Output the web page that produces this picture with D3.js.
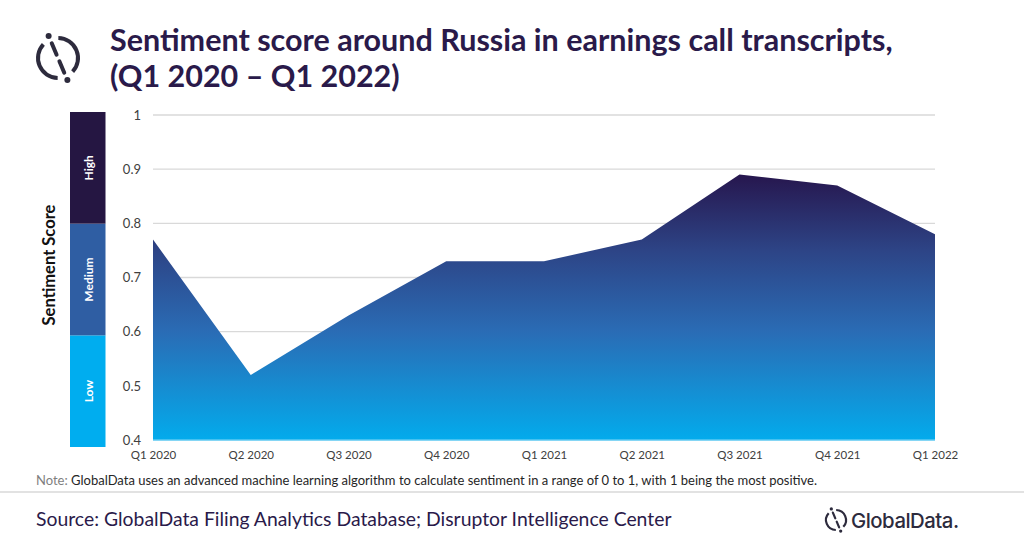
<!DOCTYPE html>
<html>
<head>
<meta charset="utf-8">
<script src="https://cdn.jsdelivr.net/npm/d3@7"></script>
<style>
  body { margin: 0; background: #fff; }
  svg { display: block; font-family: Lato, "Open Sans", sans-serif; }
</style>
</head>
<body>
<div id="chart"></div>
<script>
// data
const quarters = ["Q1 2020", "Q2 2020", "Q3 2020", "Q4 2020", "Q1 2021", "Q2 2021", "Q3 2021", "Q4 2021", "Q1 2022"]
const scores = [0.77, 0.52, 0.63, 0.73, 0.73, 0.77, 0.89, 0.87, 0.78]
const yTicks = [0.4, 0.5, 0.6, 0.7, 0.8, 0.9, 1]
const bandLabels = ["Low", "Medium", "High"]
const bandLows = [0.4, 0.6, 0.8]
const bandHighs = [0.6, 0.8, 1.0]
const bandColors = ["#00adef", "#2f5ea3", "#251642"]

const W = 1024, H = 549
const ink = "#2a1a4a"

const svg = d3.select("#chart").append("svg")
    .attr("width", W)
    .attr("height", H)

// fit a text element to a target width by scaling its font size
function fitWidth(sel, target) {
    const node = sel.node()
    const w = node.getComputedTextLength()
    const fs = parseFloat(sel.attr("font-size"))
    sel.attr("font-size", (fs * target / w).toFixed(2))
}

// logo: circle split by a slash, with two dots
function logo(g, r, sw) {
    const arc = d3.arc().innerRadius(r - sw / 2).outerRadius(r + sw / 2)
    const gap = 24
    const a0 = -23
    g.append("path").attr("fill", "#2d2b3d")
        .attr("d", arc({ startAngle: (a0 + gap) * Math.PI / 180, endAngle: (a0 + 180 - gap) * Math.PI / 180 }))
    g.append("path").attr("fill", "#2d2b3d")
        .attr("d", arc({ startAngle: (a0 + 180 + gap) * Math.PI / 180, endAngle: (a0 + 360 - gap) * Math.PI / 180 }))
    const ang = (a0) * Math.PI / 180
    const ux = Math.sin(ang), uy = -Math.cos(ang)
    const seg = (t0, t1) => g.append("line")
        .attr("x1", ux * t0).attr("y1", uy * t0)
        .attr("x2", ux * t1).attr("y2", uy * t1)
        .attr("stroke", "#2d2b3d").attr("stroke-width", sw).attr("stroke-linecap", "round")
    seg(r * 0.8, r * 0.18)
    seg(-r * 0.18, -r * 0.8)
    g.append("circle").attr("cx", ux * r * 1.2).attr("cy", uy * r * 1.2).attr("r", sw * 0.75).attr("fill", "#2d2b3d")
    g.append("circle").attr("cx", -ux * r * 1.2).attr("cy", -uy * r * 1.2).attr("r", sw * 0.75).attr("fill", "#2d2b3d")
}

logo(svg.append("g").attr("transform", "translate(58,58)"), 20, 4)

// title
const t1 = svg.append("text")
    .attr("x", 110).attr("y", 51)
    .attr("font-size", 27).attr("font-weight", "bold").attr("fill", ink)
    .text("Sentiment score around Russia in earnings call transcripts,")
fitWidth(t1, 783)
const t2 = svg.append("text")
    .attr("x", 110).attr("y", 87)
    .attr("font-size", t1.attr("font-size")).attr("font-weight", "bold").attr("fill", ink)
    .text("(Q1 2020 – Q1 2022)")

// scales
const x = d3.scalePoint().domain(quarters).range([153, 935])
const y = d3.scaleLinear().domain([0.4, 1]).range([440, 115])
const yBand = d3.scaleLinear().domain([0.4, 1]).range([447, 112])

// gridlines
svg.append("g").selectAll("line")
    .data(yTicks.slice(1))
    .enter().append("line")
    .attr("x1", 153).attr("x2", 935)
    .attr("y1", d => y(d)).attr("y2", d => y(d))
    .attr("stroke", "#d9d9d9").attr("stroke-width", 1.3)

// gradient for the area
const defs = svg.append("defs")
const grad = defs.append("linearGradient")
    .attr("id", "areaGrad")
    .attr("gradientUnits", "userSpaceOnUse")
    .attr("x1", 0).attr("x2", 0)
    .attr("y1", y(0.9)).attr("y2", y(0.4))
grad.append("stop").attr("offset", "0%").attr("stop-color", "#26134a")
grad.append("stop").attr("offset", "30%").attr("stop-color", "#2d4486")
grad.append("stop").attr("offset", "60%").attr("stop-color", "#2a6cb5")
grad.append("stop").attr("offset", "100%").attr("stop-color", "#03abec")

const area = d3.area()
    .x((d, i) => x(quarters[i]))
    .y0(y(0.4))
    .y1(d => y(d))

svg.append("path")
    .datum(scores)
    .attr("d", area)
    .attr("fill", "url(#areaGrad)")

// base line
svg.append("line")
    .attr("x1", 153).attr("x2", 935)
    .attr("y1", y(0.4)).attr("y2", y(0.4))
    .attr("stroke", "#5cc8f2").attr("stroke-width", 1.5)

// y axis labels
const yAxis = svg.append("g")
    .attr("transform", "translate(141,0)")
    .call(d3.axisLeft(y).tickValues(yTicks).tickSize(0).tickPadding(0).tickFormat(d3.format("")))
yAxis.select(".domain").remove()
yAxis.selectAll("text").attr("font-size", 13).attr("fill", "#404040").attr("font-family", "Lato, sans-serif")

// x axis labels
const xAxis = svg.append("g")
    .attr("transform", "translate(0," + 451 + ")")
    .call(d3.axisBottom(x).tickSize(0).tickPadding(0))
xAxis.select(".domain").remove()
xAxis.selectAll("text").attr("font-size", 11.5).attr("fill", "#404040").attr("font-family", "Lato, sans-serif")

// sentiment bands
const bands = svg.append("g")
bands.selectAll("rect")
    .data(bandLabels)
    .enter().append("rect")
    .attr("x", 70).attr("width", 35.5)
    .attr("y", (d, i) => yBand(bandHighs[i]))
    .attr("height", (d, i) => yBand(bandLows[i]) - yBand(bandHighs[i]))
    .attr("fill", (d, i) => bandColors[i])
bands.selectAll("text")
    .data(bandLabels)
    .enter().append("text")
    .attr("transform", (d, i) => "translate(93," + yBand((bandLows[i] + bandHighs[i]) / 2) + ") rotate(-90)")
    .attr("text-anchor", "middle")
    .attr("font-size", 12).attr("font-weight", "bold").attr("fill", "#fff")
    .text(d => d)

const yTitle = svg.append("text")
    .attr("transform", "translate(55,265) rotate(-90)")
    .attr("text-anchor", "middle")
    .attr("font-size", 16).attr("font-weight", "bold").attr("fill", "#111")
    .text("Sentiment Score")
fitWidth(yTitle, 121)

// note
const note = svg.append("text")
    .attr("x", 36).attr("y", 485)
    .attr("font-size", 11).attr("fill", "#262626")
note.append("tspan").attr("fill", "#7f7f7f").text("Note: ")
note.append("tspan").text("GlobalData uses an advanced machine learning algorithm to calculate sentiment in a range of 0 to 1, with 1 being the most positive.")
fitWidth(note, 781)

svg.append("line")
    .attr("x1", 0).attr("x2", W)
    .attr("y1", 492).attr("y2", 492)
    .attr("stroke", "#d9d9d9").attr("stroke-width", 1.5)

// source
const src = svg.append("text")
    .attr("x", 36).attr("y", 526)
    .attr("font-size", 18).attr("fill", ink)
    .text("Source: GlobalData Filing Analytics Database; Disruptor Intelligence Center")
fitWidth(src, 636)

// bottom logo
logo(svg.append("g").attr("transform", "translate(836,520)"), 10, 2.2)
const brand = svg.append("text")
    .attr("x", 851).attr("y", 528)
    .attr("font-size", 22).attr("font-family", "Inter, sans-serif").attr("font-weight", 500)
    .attr("fill", "#2d2b3d").attr("letter-spacing", -0.5)
    .text("GlobalData.")
fitWidth(brand, 108)
</script>
</body>
</html>
